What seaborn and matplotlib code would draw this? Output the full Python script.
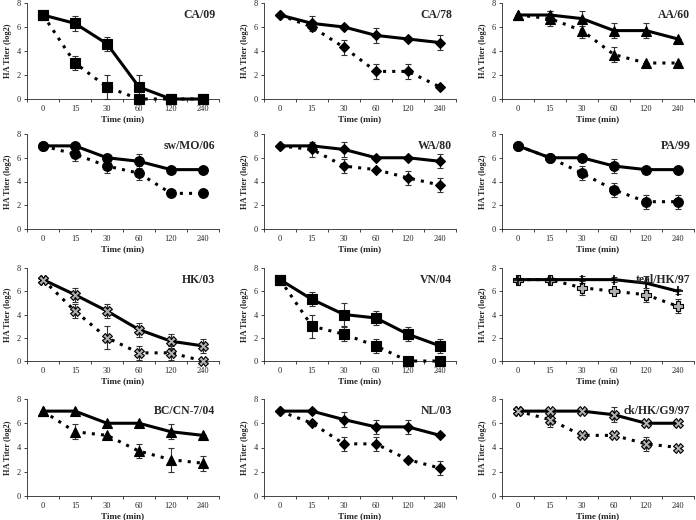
import numpy as np
import pandas as pd
import seaborn as sns
import matplotlib.pyplot as plt

# time points (categorical) and virus names
times = ["0", "15", "30", "60", "120", "240"]
viruses = ["CA/09", "CA/78", "AA/60", "sw/MO/06", "WA/80", "PA/99",
           "HK/03", "VN/04", "teal/HK/97", "BC/CN-7/04", "NL/03", "ck/HK/G9/97"]

# solid line (first condition) means / errors
solid_mean = {
    "CA/09":       [7, 6.3, 4.6, 1.0, 0, 0],
    "CA/78":       [7, 6.3, 6.0, 5.3, 5.0, 4.7],
    "AA/60":       [7, 7.0, 6.7, 5.7, 5.7, 5.0],
    "sw/MO/06":    [7, 7.0, 6.0, 5.7, 5.0, 5.0],
    "WA/80":       [7, 7.0, 6.7, 6.0, 6.0, 5.7],
    "PA/99":       [7, 6.0, 6.0, 5.3, 5.0, 5.0],
    "HK/03":       [7, 5.7, 4.3, 2.7, 1.7, 1.3],
    "VN/04":       [7, 5.3, 4.0, 3.7, 2.3, 1.3],
    "teal/HK/97":  [7, 7.0, 7.0, 7.0, 6.7, 6.0],
    "BC/CN-7/04":  [7, 7.0, 6.0, 6.0, 5.3, 5.0],
    "NL/03":       [7, 7.0, 6.3, 5.7, 5.7, 5.0],
    "ck/HK/G9/97": [7, 7.0, 7.0, 6.7, 6.0, 6.0],
}
solid_err = {
    "CA/09":       [0, 0.6, 0.6, 1.0, 0, 0],
    "CA/78":       [0, 0.6, 0, 0.6, 0, 0.6],
    "AA/60":       [0, 0.3, 0.6, 0.6, 0.6, 0],
    "sw/MO/06":    [0, 0, 0, 0.6, 0, 0],
    "WA/80":       [0, 0, 0.6, 0, 0, 0.6],
    "PA/99":       [0, 0, 0, 0.6, 0, 0],
    "HK/03":       [0, 0.6, 0.6, 0.6, 0.6, 0.6],
    "VN/04":       [0, 0.6, 1.0, 0.6, 0.6, 0.6],
    "teal/HK/97":  [0, 0.2, 0.3, 0.2, 0.6, 0.2],
    "BC/CN-7/04":  [0, 0, 0, 0, 0.6, 0],
    "NL/03":       [0, 0, 0.6, 0.6, 0.6, 0],
    "ck/HK/G9/97": [0, 0, 0, 0.6, 0, 0],
}
# dotted line (second condition) means / errors
dot_mean = {
    "CA/09":       [7, 3.0, 1.0, 0, 0, 0],
    "CA/78":       [7, 6.0, 4.3, 2.3, 2.3, 1.0],
    "AA/60":       [7, 6.7, 5.7, 3.7, 3.0, 3.0],
    "sw/MO/06":    [7, 6.3, 5.3, 4.7, 3.0, 3.0],
    "WA/80":       [7, 6.7, 5.3, 5.0, 4.3, 3.7],
    "PA/99":       [7, 6.0, 4.7, 3.3, 2.3, 2.3],
    "HK/03":       [7, 4.3, 2.0, 0.7, 0.7, 0],
    "VN/04":       [7, 3.0, 2.3, 1.3, 0, 0],
    "teal/HK/97":  [7, 7.0, 6.3, 6.0, 5.7, 4.7],
    "BC/CN-7/04":  [7, 5.3, 5.0, 3.7, 3.0, 2.7],
    "NL/03":       [7, 6.0, 4.3, 4.3, 3.0, 2.3],
    "ck/HK/G9/97": [7, 6.3, 5.0, 5.0, 4.3, 4.0],
}
dot_err = {
    "CA/09":       [0, 0.6, 1.0, 0, 0, 0],
    "CA/78":       [0, 0, 0.6, 0.6, 0.6, 0],
    "AA/60":       [0, 0.6, 0.6, 0.6, 0, 0],
    "sw/MO/06":    [0, 0.6, 0.6, 0.6, 0, 0],
    "WA/80":       [0, 0.6, 0.6, 0, 0.6, 0.6],
    "PA/99":       [0, 0, 0.6, 0.6, 0.6, 0.6],
    "HK/03":       [0, 0.6, 1.0, 0.6, 0.6, 0],
    "VN/04":       [0, 1.0, 0.6, 0.6, 0, 0],
    "teal/HK/97":  [0, 0, 0.6, 0, 0.6, 0.6],
    "BC/CN-7/04":  [0, 0.6, 0, 0.6, 1.0, 0.6],
    "NL/03":       [0, 0, 0.6, 0.6, 0, 0.6],
    "ck/HK/G9/97": [0, 0.6, 0, 0, 0.6, 0],
}
markers = {"CA/09": "s", "CA/78": "D", "AA/60": "^", "sw/MO/06": "o", "WA/80": "D",
           "PA/99": "o", "HK/03": "X", "VN/04": "s", "teal/HK/97": "P",
           "BC/CN-7/04": "^", "NL/03": "D", "ck/HK/G9/97": "X"}
grey_marks = ["HK/03", "teal/HK/97", "ck/HK/G9/97"]

sns.set_style("ticks")
plt.rcParams["font.family"] = ["Liberation Serif", "DejaVu Serif"]

fig = plt.figure(figsize=(6.96, 5.2), dpi=100)
W, H = 696, 520
col_left = [27, 264, 502]
col_w = 192
rows = [(3, 99), (134, 229), (268, 361), (399, 496)]

for i, name in enumerate(viruses):
    r, c = divmod(i, 3)
    top, bot = rows[r]
    ax = fig.add_axes([col_left[c] / W, 1 - bot / H, col_w / W, (bot - top) / H])
    df = pd.DataFrame({
        "pos": list(range(6)) * 2,
        "titer": solid_mean[name] + dot_mean[name],
        "err": solid_err[name] + dot_err[name],
        "cond": ["a"] * 6 + ["b"] * 6,
    })
    mk = markers[name]
    size = {"D": 5, "o": 7, "s": 7, "^": 7, "X": 7, "P": 7}[mk]
    fc = "#b0b0b0" if name in grey_marks else "black"
    for cond, ls in [("b", (0, (1, 2))), ("a", "-")]:
        d = df[df["cond"] == cond]
        m, s, mfc, mew = mk, size, fc, 0.8
        if name == "teal/HK/97" and cond == "a":
            m, s, mfc, mew = "+", 7, "black", 1.2
        ax.errorbar(d["pos"], d["titer"], yerr=d["err"], fmt="none",
                    ecolor="#333333", elinewidth=0.8, capsize=2, capthick=0.8,
                    zorder=2, clip_on=False)
        sns.lineplot(data=d, x="pos", y="titer", ax=ax, color="black",
                     linewidth=2.2, linestyle=ls, marker=m, markersize=s,
                     markerfacecolor=mfc, markeredgecolor="black",
                     markeredgewidth=mew, zorder=3, clip_on=False)
    ax.set_xlim(-0.5, 5.5)
    ax.set_ylim(0, 8)
    ax.set_yticks([0, 2, 4, 6, 8])
    ax.set_xticks(range(6))
    ax.set_xticklabels(times)
    ax.set_xticks(np.arange(-0.5, 6, 1), minor=True)
    ax.tick_params(axis="x", which="major", length=0, labelsize=6, pad=4)
    ax.tick_params(axis="x", which="minor", length=2.5, width=0.6)
    ax.tick_params(axis="y", length=2.5, width=0.6, labelsize=6, pad=2)
    for sp in ["left", "bottom"]:
        ax.spines[sp].set_linewidth(0.6)
    sns.despine(ax=ax)
    ax.set_xlabel("Time (min)", fontsize=6.5, fontweight="bold", labelpad=2)
    ax.set_ylabel("HA Titer (log2)", fontsize=6, fontweight="bold", labelpad=3)
    ax.text(0.98, 0.94, name, transform=ax.transAxes, ha="right", va="top",
            fontsize=8.5, fontweight="bold")

fig.savefig("out.png", dpi=100)
